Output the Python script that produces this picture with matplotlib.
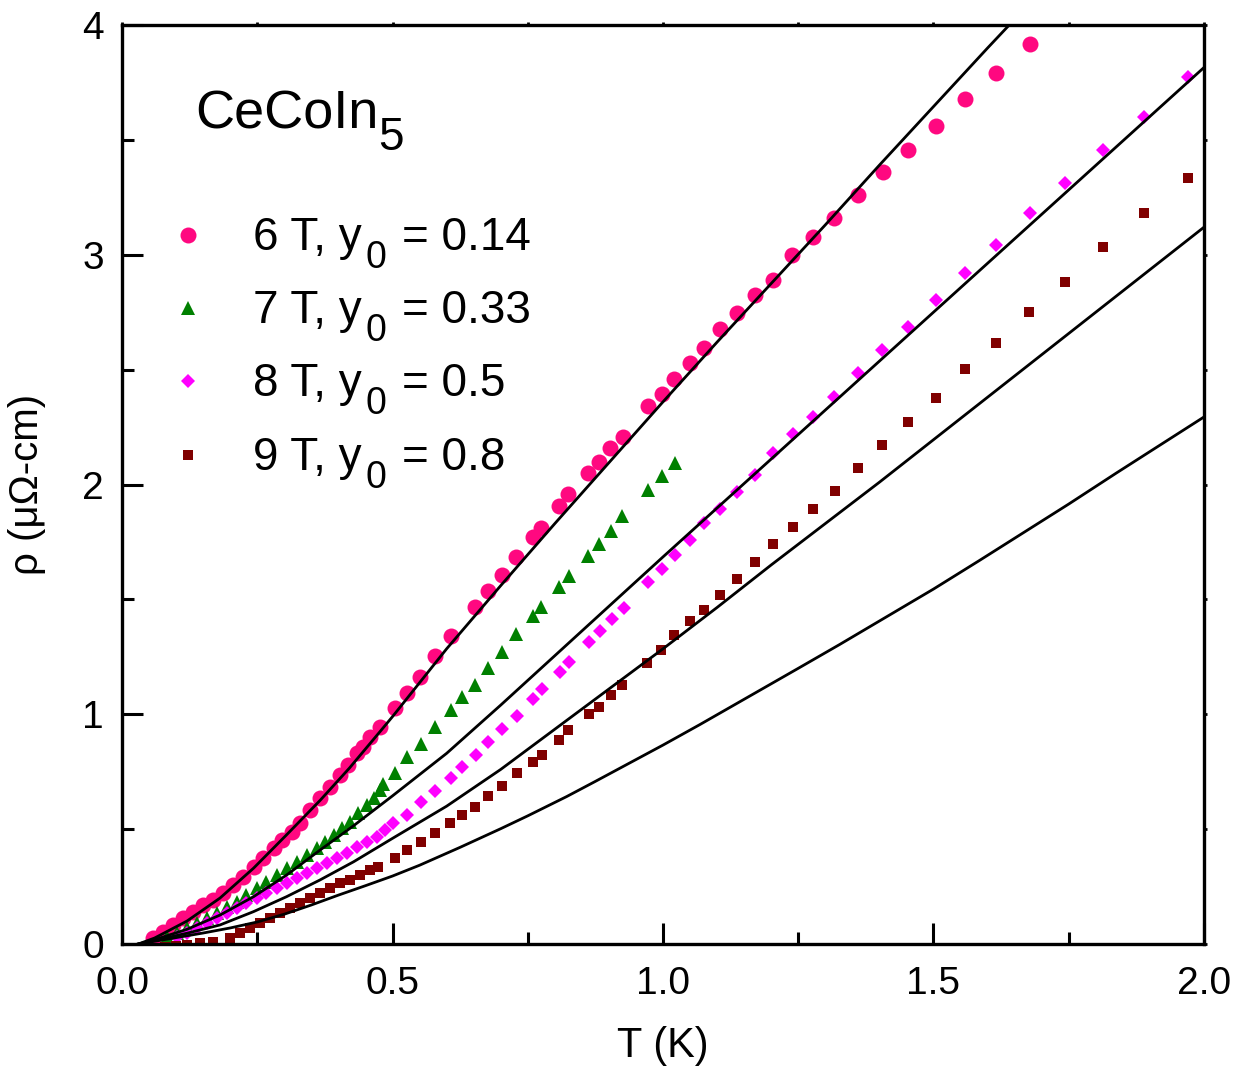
import matplotlib
matplotlib.use('Agg')  # no display
import matplotlib.pyplot as plt
from matplotlib.ticker import MultipleLocator

plt.rcParams['font.family'] = ['Liberation Sans', 'DejaVu Sans']

# resistivity data, T in K, rho in micro-ohm cm
t_6T = [0.058, 0.076, 0.095, 0.113, 0.132, 0.150, 0.169, 0.187, 0.206, 0.224,
        0.243, 0.261, 0.280, 0.295, 0.314, 0.329, 0.348, 0.366, 0.384, 0.403,
        0.418, 0.434, 0.446, 0.458, 0.476,
        0.505, 0.526, 0.551, 0.579, 0.608, 0.653, 0.676, 0.702, 0.728, 0.759,
        0.774, 0.808, 0.825, 0.862, 0.882, 0.902, 0.926, 0.972, 0.998, 1.020,
        1.049, 1.076, 1.105, 1.137, 1.170, 1.204, 1.239, 1.278, 1.317, 1.360,
        1.406, 1.453, 1.505, 1.558, 1.616, 1.678]
rho_6T = [0.025, 0.054, 0.083, 0.112, 0.141, 0.170, 0.192, 0.221, 0.257, 0.293,
          0.337, 0.373, 0.417, 0.453, 0.489, 0.525, 0.583, 0.634, 0.685, 0.736,
          0.779, 0.830, 0.859, 0.902, 0.945,
          1.026, 1.094, 1.164, 1.254, 1.341, 1.468, 1.538, 1.606, 1.686, 1.773,
          1.809, 1.906, 1.959, 2.050, 2.098, 2.159, 2.207, 2.342, 2.394, 2.459,
          2.527, 2.593, 2.675, 2.745, 2.825, 2.890, 2.997, 3.077, 3.162, 3.258,
          3.359, 3.456, 3.560, 3.676, 3.790, 3.918]

t_7T = [0.083, 0.101, 0.120, 0.138, 0.157, 0.175, 0.194, 0.212, 0.230, 0.249,
        0.267, 0.286, 0.304, 0.323, 0.341, 0.360, 0.375, 0.391, 0.406, 0.421,
        0.437, 0.452, 0.465, 0.477, 0.483,
        0.505, 0.526, 0.552, 0.579, 0.608, 0.629, 0.653, 0.676, 0.702, 0.728,
        0.759, 0.774, 0.808, 0.826, 0.862, 0.882, 0.903, 0.925, 0.972, 0.998,
        1.022]
rho_7T = [0.029, 0.047, 0.068, 0.090, 0.112, 0.134, 0.162, 0.184, 0.213, 0.242,
          0.271, 0.300, 0.329, 0.358, 0.387, 0.416, 0.445, 0.474, 0.503, 0.532,
          0.569, 0.605, 0.634, 0.670, 0.696,
          0.746, 0.813, 0.871, 0.943, 1.019, 1.076, 1.127, 1.200, 1.270, 1.349,
          1.428, 1.466, 1.553, 1.602, 1.689, 1.741, 1.799, 1.863, 1.976, 2.037,
          2.094]

t_8T = [0.101, 0.120, 0.138, 0.157, 0.175, 0.194, 0.212, 0.230, 0.249, 0.267,
        0.286, 0.304, 0.323, 0.341, 0.360, 0.378, 0.397, 0.415, 0.434, 0.452,
        0.471, 0.486, 0.501,
        0.526, 0.552, 0.579, 0.608, 0.629, 0.654, 0.677, 0.703, 0.730, 0.760,
        0.776, 0.810, 0.826, 0.863, 0.884, 0.905, 0.927, 0.973, 0.999, 1.022,
        1.050, 1.076, 1.105, 1.137, 1.170, 1.203, 1.240, 1.278, 1.317, 1.361,
        1.404, 1.453, 1.504, 1.558, 1.615, 1.678, 1.743, 1.813, 1.890, 1.971]
rho_8T = [0.029, 0.047, 0.068, 0.090, 0.112, 0.134, 0.155, 0.177, 0.199, 0.221,
          0.242, 0.264, 0.286, 0.308, 0.329, 0.351, 0.373, 0.395, 0.424, 0.445,
          0.467, 0.496, 0.525,
          0.561, 0.620, 0.666, 0.724, 0.769, 0.823, 0.878, 0.936, 0.994, 1.066,
          1.109, 1.185, 1.229, 1.313, 1.364, 1.413, 1.464, 1.577, 1.631, 1.693,
          1.758, 1.834, 1.892, 1.969, 2.041, 2.136, 2.220, 2.292, 2.382, 2.484,
          2.585, 2.687, 2.803, 2.919, 3.042, 3.180, 3.314, 3.456, 3.601, 3.775]

t_9T = [0.080, 0.100, 0.120, 0.144, 0.169, 0.200, 0.218, 0.237, 0.255, 0.274,
        0.292, 0.311, 0.329, 0.348, 0.366, 0.384, 0.403, 0.421, 0.440, 0.458,
        0.474,
        0.505, 0.526, 0.552, 0.579, 0.606, 0.628, 0.652, 0.677, 0.703, 0.730,
        0.760, 0.776, 0.808, 0.825, 0.863, 0.882, 0.903, 0.925, 0.971, 0.996,
        1.021, 1.049, 1.076, 1.105, 1.137, 1.170, 1.204, 1.240, 1.278, 1.318,
        1.360, 1.405, 1.453, 1.504, 1.558, 1.616, 1.677, 1.743, 1.814, 1.890,
        1.971]
rho_9T = [-0.012, -0.010, -0.006, 0.003, 0.010, 0.025, 0.047, 0.068, 0.090, 0.112,
          0.134, 0.155, 0.177, 0.199, 0.221, 0.242, 0.264, 0.279, 0.300, 0.322,
          0.337,
          0.373, 0.409, 0.445, 0.482, 0.525, 0.561, 0.598, 0.645, 0.688, 0.743,
          0.794, 0.823, 0.888, 0.931, 1.000, 1.033, 1.084, 1.127, 1.224, 1.280,
          1.345, 1.406, 1.454, 1.519, 1.587, 1.661, 1.741, 1.816, 1.892, 1.972,
          2.073, 2.173, 2.273, 2.377, 2.501, 2.614, 2.752, 2.883, 3.035, 3.183,
          3.335]

# calculated curves
fit1_t = [0.030, 0.060, 0.120, 0.181, 0.243, 0.304, 0.366, 0.420, 0.477, 0.500,
          0.600, 0.700, 0.800, 0.900, 1.000, 1.100, 1.200, 1.300, 1.400, 1.500,
          1.600, 1.640]
fit1_rho = [0.000, 0.026, 0.100, 0.200, 0.330, 0.475, 0.625, 0.765, 0.925, 0.990,
            1.285, 1.560, 1.830, 2.095, 2.360, 2.620, 2.875, 3.130, 3.390, 3.645,
            3.900, 4.000]

fit2_t = [0.030, 0.058, 0.120, 0.181, 0.243, 0.304, 0.366, 0.428, 0.500, 0.600,
          0.700, 0.800, 0.900, 1.000, 1.100, 1.200, 1.300, 1.400, 1.500, 1.600,
          1.700, 1.800, 1.900, 2.000]
fit2_rho = [0.000, 0.017, 0.064, 0.126, 0.206, 0.300, 0.409, 0.515, 0.645, 0.830,
            1.040, 1.255, 1.470, 1.685, 1.898, 2.111, 2.324, 2.537, 2.750, 2.963,
            3.176, 3.389, 3.602, 3.815]

fit3_t = [0.030, 0.120, 0.181, 0.243, 0.304, 0.366, 0.428, 0.500, 0.600, 0.700,
          0.800, 0.900, 1.000, 1.100, 1.200, 1.300, 1.400, 1.500, 1.600, 1.700,
          1.800, 1.900, 2.000]
fit3_rho = [0.000, 0.047, 0.083, 0.141, 0.206, 0.279, 0.358, 0.460, 0.600, 0.760,
            0.935, 1.110, 1.285, 1.465, 1.650, 1.830, 2.010, 2.195, 2.380, 2.565,
            2.750, 2.935, 3.120]

fit4_t = [0.030, 0.060, 0.100, 0.150, 0.200, 0.250, 0.300, 0.350, 0.400, 0.450,
          0.500, 0.550, 0.625, 0.700, 0.750, 0.822, 0.875, 1.000, 1.068, 1.250,
          1.326, 1.500, 1.584, 1.750, 1.838, 2.000]
fit4_rho = [0.000, 0.012, 0.028, 0.048, 0.070, 0.096, 0.130, 0.170, 0.213, 0.254,
            0.296, 0.343, 0.421, 0.502, 0.558, 0.642, 0.708, 0.866, 0.955, 1.200,
            1.303, 1.545, 1.668, 1.915, 2.050, 2.294]

# key text pieces: main text, subscript, value
key_field = ['6 T, y', '7 T, y', '8 T, y', '9 T, y']
key_value = ['= 0.14', '= 0.33', '= 0.5', '= 0.8']

series = [
    (t_6T, rho_6T, 'o', '#FF0880', 11.5),
    (t_7T, rho_7T, '^', '#008000', 9.6),
    (t_8T, rho_8T, 'D', '#FF00FF', 7.6),
    (t_9T, rho_9T, 's', '#800000', 7.9),
]

fig = plt.figure(figsize=(12.43, 10.69), dpi=100)
ax = fig.add_axes([0.0982, 0.1169, 0.8704, 0.8597])

for t, rho, mk, col, ms in series:
    ax.plot(t, rho, linestyle='none', marker=mk, color=col, markersize=ms,
            markeredgewidth=0, zorder=2)

for ft, frho in [(fit1_t, fit1_rho), (fit2_t, fit2_rho),
                 (fit3_t, fit3_rho), (fit4_t, fit4_rho)]:
    ax.plot(ft, frho, color='black', linewidth=2.0, zorder=3)

ax.set_xlim(0, 2)
ax.set_ylim(0, 4)
ax.xaxis.set_minor_locator(MultipleLocator(0.25))
ax.yaxis.set_minor_locator(MultipleLocator(0.5))
ax.set_xticks([0, 0.5, 1.0, 1.5, 2.0])
ax.set_xticklabels(['0.0', '0.5', '1.0', '1.5', '2.0'])
ax.set_yticks([0, 1, 2, 3, 4])
ax.set_yticklabels(['0', '1', '2', '3', '4'])

ax.tick_params(axis='both', which='major', direction='in', length=15, width=2.2,
               labelsize=28)
ax.tick_params(axis='both', which='minor', direction='in', length=8.5, width=2.2)
ax.tick_params(axis='x', which='major', pad=16)
ax.tick_params(axis='y', which='major', pad=13)

# tiny marks on the top and right frame
sec_x = ax.secondary_xaxis('top')
sec_x.set_xticks([0, 0.25, 0.5, 0.75, 1.0, 1.25, 1.5, 1.75, 2.0])
sec_x.tick_params(direction='out', length=2, width=2, labeltop=False)
sec_x.spines['top'].set_visible(False)
sec_y = ax.secondary_yaxis('right')
sec_y.set_yticks([0, 0.5, 1, 1.5, 2, 2.5, 3, 3.5, 4])
sec_y.tick_params(direction='out', length=2, width=2, labelright=False)
sec_y.spines['right'].set_visible(False)

for sp in ax.spines.values():
    sp.set_linewidth(2.4)

ax.set_xlabel('T (K)', fontsize=30, labelpad=17)
ax.set_ylabel('ρ (μΩ-cm)', fontsize=29, labelpad=26)

# sample name with subscript
ax.text(0.0675, 0.8879, 'CeCoIn', transform=ax.transAxes,
        fontsize=39, va='baseline', ha='left')
ax.text(0.2366, 0.8640, '5', transform=ax.transAxes,
        fontsize=33, va='baseline', ha='left')

# key
mark_y = [0.7715, 0.6921, 0.6126, 0.5321]
base_y = [0.7552, 0.6757, 0.5963, 0.5158]
for (t, rho, mk, col, ms), fld, val, my, by in zip(series, key_field, key_value,
                                                  mark_y, base_y):
    ax.plot([0.061], [my], linestyle='none', marker=mk, color=col, markersize=ms,
            markeredgewidth=0, transform=ax.transAxes, clip_on=False)
    ax.text(0.1211, by, fld, transform=ax.transAxes, fontsize=33,
            va='baseline', ha='left')
    ax.text(0.2246, by - 0.0196, '0', transform=ax.transAxes, fontsize=27,
            va='baseline', ha='left')
    ax.text(0.2588, by, val, transform=ax.transAxes, fontsize=33,
            va='baseline', ha='left')

fig.savefig('out.png', dpi=100)
